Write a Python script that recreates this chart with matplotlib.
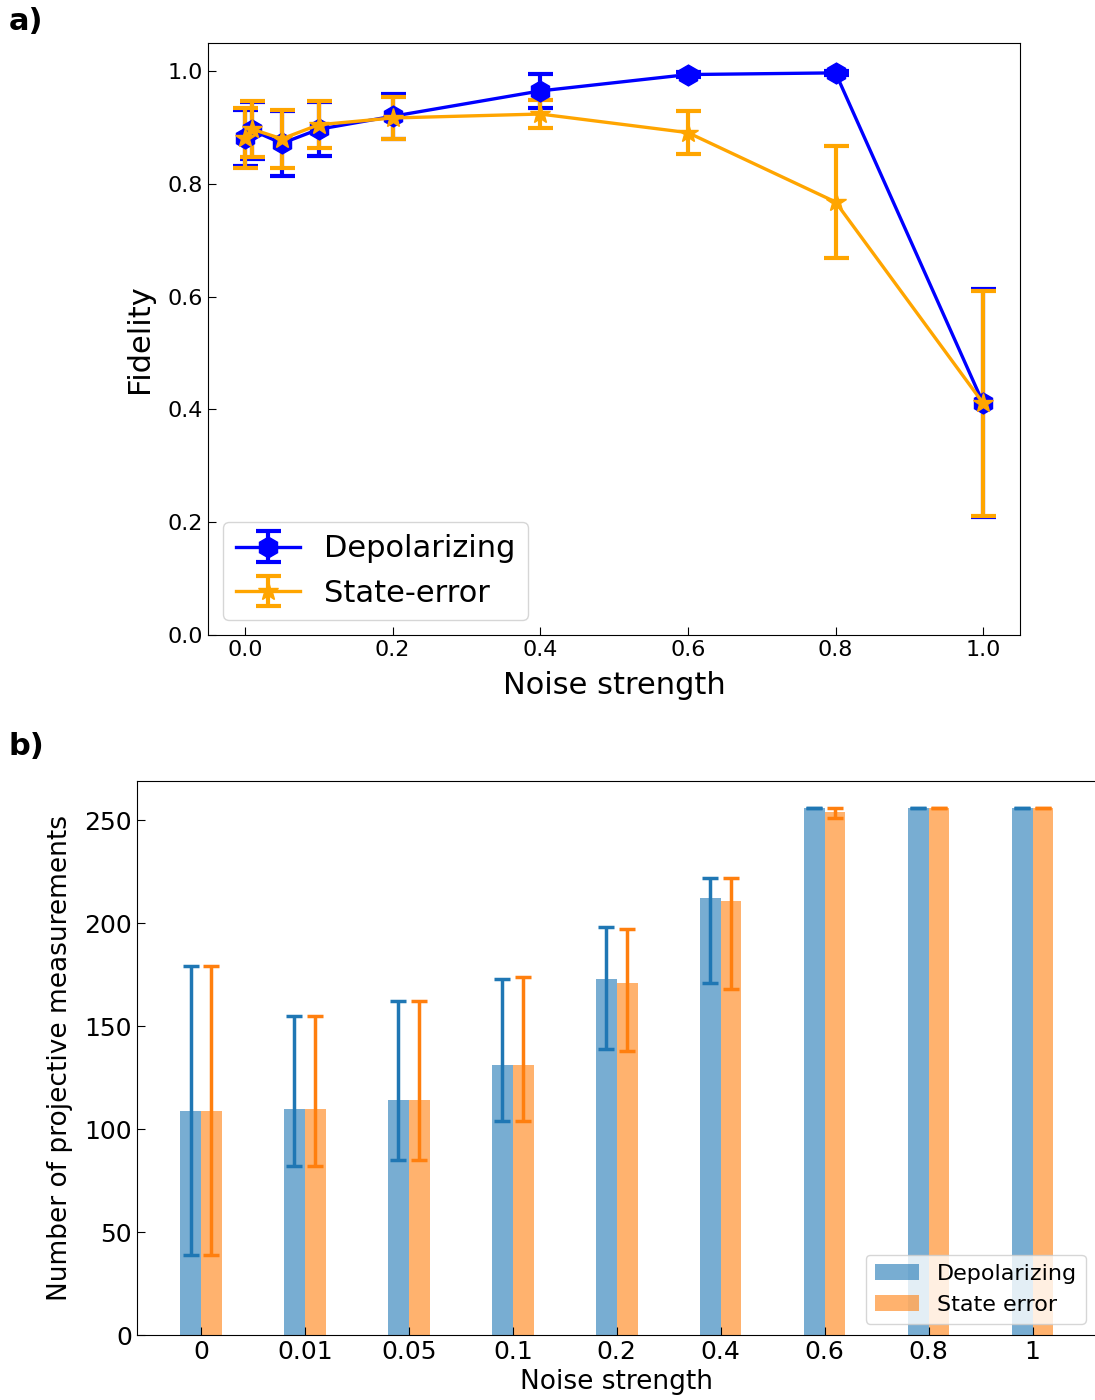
import numpy as np
import matplotlib
matplotlib.use("Agg")
import matplotlib.pyplot as plt

# donnees panneau a) : fidelite
noise = [0.0, 0.01, 0.05, 0.1, 0.2, 0.4, 0.6, 0.8, 1.0]
fid_depol = [0.882, 0.895, 0.872, 0.897, 0.920, 0.965, 0.994, 0.997, 0.411]
err_depol = [0.050, 0.050, 0.058, 0.048, 0.040, 0.030, 0.004, 0.004, 0.202]
fid_state = [0.882, 0.897, 0.880, 0.905, 0.917, 0.924, 0.891, 0.768, 0.411]
err_state = [0.053, 0.050, 0.052, 0.042, 0.037, 0.025, 0.038, 0.100, 0.200]

# donnees panneau b) : nombre de mesures projectives
labels = ["0", "0.01", "0.05", "0.1", "0.2", "0.4", "0.6", "0.8", "1"]
mes_depol = [109, 110, 114, 131, 173, 212, 256, 256, 256]
mes_depol_lo = [70, 28, 29, 27, 34, 41, 0, 0, 0]
mes_depol_hi = [70, 45, 48, 42, 25, 10, 0, 0, 0]
mes_state = [109, 110, 114, 131, 171, 211, 254, 256, 256]
mes_state_lo = [70, 28, 29, 27, 33, 43, 3, 0, 0]
mes_state_hi = [70, 45, 48, 43, 26, 11, 2, 0, 0]

fig = plt.figure(figsize=(10.95, 14), dpi=100)

# panneau a)
ax1 = fig.add_axes([0.19, 0.5464, 0.7416, 0.4229])
ax1.errorbar(noise, fid_depol, yerr=err_depol, color="blue", marker="h",
             markersize=15, linewidth=2.4, elinewidth=3, capsize=9, capthick=3,
             label="Depolarizing")
ax1.errorbar(noise, fid_state, yerr=err_state, color="orange", marker="*",
             markersize=15, linewidth=2.4, elinewidth=3, capsize=9, capthick=3,
             label="State-error")
ax1.set_xlim(-0.05, 1.05)
ax1.set_ylim(0, 1.05)
ax1.set_xticks([0, 0.2, 0.4, 0.6, 0.8, 1.0])
ax1.set_yticks([0, 0.2, 0.4, 0.6, 0.8, 1.0])
ax1.tick_params(direction="in", labelsize=16, length=6)
ax1.set_xlabel("Noise strength", fontsize=22, labelpad=8)
ax1.set_ylabel("Fidelity", fontsize=22, labelpad=10)
ax1.legend(loc="lower left", fontsize=22, handlelength=2.1)

# panneau b)
ax2 = fig.add_axes([0.1251, 0.0464, 0.8767, 0.3957])
x = np.arange(len(labels))
w = 0.2
ax2.bar(x - w / 2, mes_depol, w, color="tab:blue", alpha=0.6, label="Depolarizing")
ax2.bar(x + w / 2, mes_state, w, color="tab:orange", alpha=0.6, label="State error")
ax2.errorbar(x - w / 2, mes_depol, yerr=[mes_depol_lo, mes_depol_hi], fmt="none",
             ecolor="tab:blue", elinewidth=2.5, capsize=6, capthick=2.5)
ax2.errorbar(x + w / 2, mes_state, yerr=[mes_state_lo, mes_state_hi], fmt="none",
             ecolor="tab:orange", elinewidth=2.5, capsize=6, capthick=2.5)
ax2.set_xticks(x)
ax2.set_xticklabels(labels)
ax2.set_xlim(-0.615, 8.62)
ax2.set_ylim(0, 269)
ax2.tick_params(direction="in", labelsize=18, length=6)
ax2.set_xlabel("Noise strength", fontsize=19, labelpad=4)
ax2.set_ylabel("Number of projective measurements", fontsize=19, labelpad=8)
ax2.legend(loc="lower right", fontsize=16)

fig.text(0.008, 0.985, "a)", fontsize=22, fontweight="bold", va="center")
fig.text(0.008, 0.467, "b)", fontsize=22, fontweight="bold", va="center")

fig.savefig("out.png", dpi=100)
